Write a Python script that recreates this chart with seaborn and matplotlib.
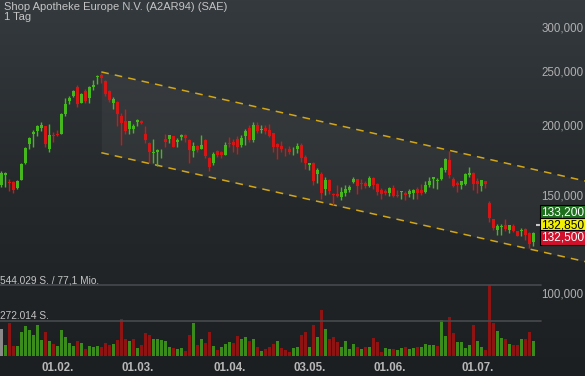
import matplotlib
matplotlib.use("Agg")
import matplotlib.pyplot as plt
from matplotlib.colors import LinearSegmentedColormap
import numpy as np
import pandas as pd
import seaborn as sns

title = "Shop Apotheke Europe N.V. (A2AR94) (SAE)"
interval = "1 Tag"

# daily OHLC (EUR)
open_ = [157.0, 163.5, 159.0, 159.0, 155.0, 160.5, 172.0, 186.0, 194.0, 196.0,
         198.8, 200.0, 182.0, 193.0, 194.0, 194.0, 210.5, 222.0, 226.5, 235.0,
         220.5, 231.5, 224.5, 235.0, 245.0, 247.5, 241.7, 231.5, 220.5, 221.5,
         208.5, 204.8, 197.7, 197.7, 203.7, 204.3, 194.0, 186.5, 179.0, 180.0,
         181.8, 190.0, 190.0, 192.0, 187.5, 191.4, 193.0, 189.1, 181.0, 184.5,
         182.5, 189.1, 175.3, 172.2, 180.8, 180.0, 177.5, 186.4, 187.5, 189.5,
         185.0, 192.3, 198.9, 189.1, 201.0, 197.0, 198.9, 197.1, 194.3, 186.0,
         184.5, 181.6, 182.1, 181.2, 182.5, 185.0, 176.5, 170.8, 172.2, 164.3,
         164.3, 154.5, 160.3, 151.2, 151.2, 149.6, 151.7, 154.0, 159.0, 160.7,
         158.5, 158.5, 156.3, 161.6, 157.6, 154.0, 153.4, 151.7, 154.8, 150.8,
         152.5, 152.0, 151.2, 152.0, 154.6, 153.8, 152.5, 156.8, 160.7, 159.9,
         161.2, 167.0, 174.1, 161.1, 158.0, 156.8, 157.6, 163.9, 165.2, 159.4,
         156.3, 159.4, 145.9, 136.4, 130.3, 132.0, 132.9, 130.5, 132.4, 129.7,
         130.0, 130.7, 129.0, 123.9]
high = [166.0, 165.5, 161.0, 159.5, 160.0, 172.0, 183.5, 191.5, 197.0, 201.5,
        203.5, 200.7, 202.0, 195.5, 197.0, 211.0, 225.0, 226.5, 232.0, 237.0,
        229.5, 233.5, 236.5, 242.0, 247.5, 249.0, 242.3, 232.5, 225.5, 222.5,
        211.0, 215.0, 204.8, 202.0, 206.5, 205.4, 200.0, 187.5, 189.5, 182.5,
        182.5, 194.0, 192.8, 192.5, 190.5, 194.0, 194.0, 189.5, 187.6, 185.0,
        193.0, 189.5, 176.0, 180.2, 181.5, 180.5, 187.3, 191.7, 190.0, 192.0,
        193.3, 198.2, 201.0, 203.7, 203.7, 201.0, 201.5, 202.0, 194.3, 187.0,
        188.0, 182.8, 184.5, 184.0, 186.5, 186.5, 177.5, 172.2, 172.7, 168.3,
        165.7, 162.0, 160.7, 151.7, 156.8, 155.8, 156.8, 157.2, 162.4, 161.1,
        161.0, 159.4, 162.9, 162.0, 158.0, 155.0, 154.5, 155.6, 156.8, 153.8,
        152.9, 153.3, 154.6, 154.2, 155.9, 157.6, 159.9, 162.0, 162.0, 161.6,
        168.8, 175.3, 180.6, 162.4, 159.4, 159.4, 164.7, 168.8, 165.7, 161.6,
        160.3, 159.4, 147.1, 136.4, 133.8, 133.8, 136.4, 132.9, 133.8, 129.7,
        131.7, 131.7, 129.3, 129.3]
low = [156.0, 156.0, 153.0, 152.0, 154.5, 160.0, 171.0, 182.0, 184.0, 192.3,
       195.9, 183.5, 180.0, 187.5, 192.0, 193.5, 209.0, 219.0, 226.0, 216.5,
       220.0, 220.5, 220.0, 232.0, 238.0, 239.5, 227.0, 221.5, 215.0, 200.0,
       185.0, 194.0, 194.0, 194.7, 200.0, 201.8, 186.5, 171.8, 171.8, 170.0,
       175.8, 184.0, 187.0, 183.5, 184.0, 189.0, 187.5, 172.2, 176.5, 180.0,
       182.0, 175.5, 166.0, 170.5, 176.5, 175.3, 177.5, 183.6, 180.0, 178.3,
       184.0, 185.0, 187.3, 187.3, 195.0, 195.0, 193.8, 191.3, 180.0, 175.0,
       180.0, 177.0, 178.6, 177.7, 179.0, 172.5, 168.0, 167.0, 157.0, 158.2,
       148.3, 150.4, 151.2, 144.5, 149.2, 147.5, 150.0, 152.5, 158.3, 151.0,
       154.3, 155.0, 155.5, 154.3, 150.4, 148.0, 150.5, 150.0, 149.6, 149.6,
       148.4, 147.5, 149.6, 148.0, 148.4, 150.8, 151.7, 155.9, 154.8, 154.6,
       160.3, 165.4, 161.6, 155.5, 152.5, 154.2, 157.2, 162.4, 153.8, 152.0,
       153.4, 155.0, 134.7, 130.3, 127.6, 127.8, 129.7, 128.8, 129.3, 127.0,
       127.3, 125.0, 121.2, 122.0]
close = [165.0, 165.3, 158.0, 154.0, 159.5, 171.4, 183.0, 191.0, 195.8, 200.0,
         201.5, 186.0, 193.4, 192.0, 193.0, 210.5, 219.0, 225.0, 231.5, 219.0,
         228.5, 222.0, 235.0, 237.5, 246.3, 244.0, 228.5, 223.0, 224.0, 210.8,
         202.5, 196.0, 204.3, 200.5, 205.0, 202.9, 189.0, 180.0, 180.0, 181.4,
         182.2, 187.5, 192.8, 184.0, 189.1, 193.0, 190.5, 181.4, 184.5, 181.4,
         185.0, 176.8, 169.3, 178.6, 177.7, 177.7, 185.5, 185.8, 185.0, 183.6,
         190.5, 196.6, 189.1, 201.5, 196.6, 198.2, 196.6, 192.3, 183.6, 184.0,
         182.0, 181.2, 180.2, 181.6, 184.5, 175.5, 172.0, 172.2, 159.5, 167.0,
         151.7, 160.3, 153.4, 150.6, 150.0, 152.5, 154.5, 155.5, 161.1, 156.3,
         157.6, 156.3, 161.6, 156.8, 152.5, 151.0, 151.7, 154.8, 150.0, 150.0,
         152.9, 150.8, 153.3, 153.8, 151.7, 151.7, 156.8, 159.9, 162.0, 160.3,
         168.4, 174.9, 163.4, 156.3, 156.8, 159.4, 164.3, 165.2, 157.6, 157.6,
         160.3, 157.6, 137.2, 131.5, 132.4, 132.6, 130.8, 132.9, 129.7, 127.3,
         130.3, 127.6, 122.9, 129.0]
# volume in shares
volume = [210000, 82000, 256000, 77000, 77000, 185000, 231000, 200000, 159000, 236000,
          123000, 185000, 118000, 92000, 77000, 200000, 144000, 97000, 77000, 113000,
          97000, 56000, 77000, 67000, 77000, 72000, 103000, 82000, 92000, 123000,
          287000, 128000, 113000, 133000, 62000, 82000, 174000, 164000, 133000, 128000,
          123000, 113000, 72000, 62000, 51000, 62000, 41000, 164000, 251000, 82000,
          128000, 97000, 185000, 77000, 46000, 67000, 92000, 108000, 97000, 154000,
          133000, 149000, 118000, 128000, 67000, 41000, 51000, 72000, 92000, 113000,
          62000, 46000, 31000, 62000, 72000, 164000, 185000, 67000, 236000, 149000,
          354000, 210000, 128000, 144000, 108000, 67000, 113000, 51000, 92000, 72000,
          51000, 67000, 67000, 139000, 108000, 31000, 62000, 56000, 51000, 46000,
          62000, 67000, 56000, 62000, 72000, 72000, 92000, 82000, 82000, 77000,
          277000, 154000, 303000, 174000, 108000, 108000, 62000, 82000, 241000, 113000,
          67000, 46000, 544029, 256000, 195000, 139000, 128000, 92000, 82000, 87000,
          128000, 128000, 185000, 118000]

tick_idx = [14, 34, 57, 77, 97, 119]
tick_labels = ["01.02.", "01.03.", "01.04.", "03.05.", "01.06.", "01.07."]
price_ticks = [100, 150, 200, 250, 300]

# trend channel: candle index -> price
chan_x = [25, 146]
chan_upper = [250.5, 159.6]
chan_lower = [179.4, 114.4]

quotes = ["133,200", "132,850", "132,500"]
last_price = 132.85
turnover = "77,1 Mio."

# colours
GREEN, RED = "#46b81e", "#d51616"
VOL_COLORS = {"up": "#3a8a1c", "down": "#8e1414", "flat": "#8a8a8a"}
TXT = "#c4c4c4"

sns.set_style("dark")
plt.rcParams["font.family"] = ["Liberation Sans", "DejaVu Sans"]

W, H = 585, 376
fig = plt.figure(figsize=(W / 100, H / 100), dpi=100)

# background gradient
bg = fig.add_axes([0, 0, 1, 1], zorder=0)
cmap = LinearSegmentedColormap.from_list("bg", ["#1c1f22", "#25292c", "#343a3e"])
bg.imshow(np.linspace(0, 1, 256).reshape(-1, 1), aspect="auto", cmap=cmap,
          origin="lower", extent=[0, 1, 0, 1])
bg.set_axis_off()

n = len(close)
idx = np.arange(n)
o, h, l, c = map(np.array, (open_, high, low, close))

# volume pane (bottom), colour by close-to-close move
axv = fig.add_axes([0, 0, 1, 1], zorder=1)
axv.patch.set_alpha(0)
move = ["flat"] + ["up" if c[i] >= c[i - 1] else "down" for i in range(1, n)]
df = pd.DataFrame({"idx": idx, "volume": volume, "move": move})
sns.barplot(data=df, x="idx", y="volume", hue="move", palette=VOL_COLORS,
            native_scale=True, dodge=False, width=0.8, errorbar=None,
            saturation=1, legend=False, linewidth=0, edgecolor="none", ax=axv)
vol_max = max(volume)
v0, v1 = 20 / H, 90.7 / H   # figure fractions of 0 and vol_max
scale = vol_max / (v1 - v0)
axv.set_ylim(-v0 * scale, (1 - v0) * scale)
for lvl in (vol_max, vol_max // 2):
    axv.axhline(lvl, xmax=541 / W, color="#464a4e", lw=1.2)
fmt = lambda v: f"{v:,}".replace(",", ".")
axv.text(0.0, vol_max, f"{fmt(vol_max)} S. / {turnover}", transform=axv.get_yaxis_transform(),
         ha="left", va="bottom", color=TXT, fontsize=7.3)
axv.text(0.0, vol_max // 2, f"{fmt(vol_max // 2)} S.", transform=axv.get_yaxis_transform(),
         ha="left", va="bottom", color=TXT, fontsize=7.3)

# price pane (log scale, full height)
ax = fig.add_axes([0, 0, 1, 1], zorder=2)
ax.patch.set_alpha(0)
ax.set_yscale("log")
ax.set_ylim(71.3, 337.2)

ax.fill_between(chan_x, chan_lower, chan_upper, color="white", alpha=0.045, lw=0)
for line in (chan_upper, chan_lower):
    ax.plot(chan_x, line, color="#d2a616", lw=1.1, ls=(0, (5, 4)))

colors = np.where(c >= o, GREEN, RED)
ax.vlines(idx, l, h, colors=colors, lw=1)
body_lo = np.minimum(o, c)
body_h = np.maximum(np.abs(c - o), 0.35)
ax.bar(idx, body_h, bottom=body_lo, width=0.75, color=colors, lw=0)

for p in price_ticks:
    ax.text(0.997, p, f"{p:.3f}".replace(".", ","), transform=ax.get_yaxis_transform(),
            ha="right", va="center", color="#b0b0b0", fontsize=8.3)

for t, lab in zip(tick_idx, tick_labels):
    ax.text(t, 8 / H, lab, transform=ax.get_xaxis_transform(), ha="center", va="center",
            color="#b8b8b8", fontsize=8.3, fontweight="bold")

# last price marker and quote tags
ax.hlines(last_price, 133.6, 134.6, color="#c8c8c8", lw=1.5)
tag_style = [("#1d6e1d", "white", 12.5), ("#f2f000", "black", 0), ("#d2102c", "white", -12.5)]
for q, (fc, tc, dy) in zip(quotes, tag_style):
    ax.annotate(q, xy=(1, last_price), xycoords=("axes fraction", "data"),
                xytext=(-0.5, dy), textcoords="offset pixels", ha="right", va="center",
                color=tc, fontsize=8.6,
                bbox=dict(boxstyle="square,pad=0.13", fc=fc, ec="black", lw=0.8))

for a in (ax, axv):
    a.set_xlim(-0.33, (W - 1.3) / 4)
    a.set_axis_off()

fig.text(4 / W, 1 - 6.5 / H, title, ha="left", va="center", color=TXT, fontsize=8.0)
fig.text(4 / W, 1 - 16.5 / H, interval, ha="left", va="center", color=TXT, fontsize=8.0)

fig.savefig("out.png", dpi=100)
